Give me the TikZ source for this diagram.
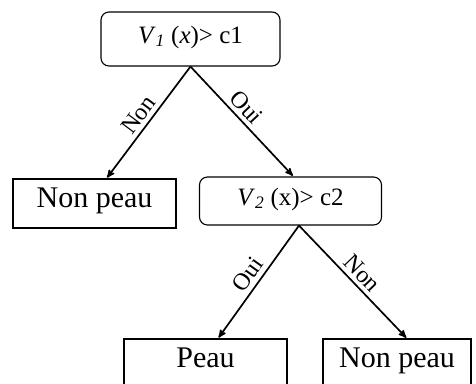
\documentclass[tikz,border=0pt]{standalone}
\usepackage{fontspec}
\setmainfont{Liberation Serif}
\usepackage{tikz}
\usetikzlibrary{arrows,shapes,positioning}
\tikzset{
  every picture/.style = {
    x = 1pt,
    y = -1pt,
    >=stealth',
  }
  ,
  test/.style = {
    rectangle,
    rounded corners = 8pt,
    draw,
    line width = 1.1pt,
    inner sep = 0pt,
    font = \fontsize{25}{28}\selectfont,
    text height = 0.9em,
    text depth = 0.1em,
    minimum height = 48pt
  }
  , % leaves of the tree
  leaf/.style = {
    test,
    rounded corners = 0pt,
    font = \fontsize{30}{34}\selectfont
  }
  , % labels of edges
  label-edge/.style = {
    sloped,
    above,
    font = \fontsize{24}{26}\selectfont,
    inner sep = 4pt
  }
  ,
  branch/.style = {
    ->,
    line width = 1.7pt,
    shorten > = 1pt
  }
}

\begin{document}
\begin{tikzpicture}
\useasboundingbox (0,0) rectangle (476,383);
\node[test, minimum width = 179pt, minimum height = 54pt] at (190.5,39) (v1) {\textit{V}\textsubscript{\textit{1}} (\textit{x})> c1};
\node[leaf, minimum width = 163pt, minimum height = 49pt] at (94.5,203.5) (np1) {Non peau};
\node[test, minimum width = 182pt] at (290.5,201) (v2) {\textit{V}\textsubscript{\textit{2}} (x)> c2};
\node[leaf, minimum width = 163pt] at (205.5,363) (peau) {Peau};
\node[leaf, minimum width = 148pt] at (397,363) (np2) {Non peau};

\draw[branch] (v1.south) -- node[label-edge] {Non} ([xshift=12pt]np1.north);
\draw[branch] (v1.south) -- node[label-edge, pos=0.45] {Oui} ([xshift=3pt]v2.north);

\draw[branch] ([xshift=8.5pt]v2.south) -- node[label-edge] {Oui} ([xshift=12.5pt]peau.north);
\draw[branch] ([xshift=8.5pt]v2.south) -- node[label-edge] {Non} ([xshift=10pt]np2.north);
\end{tikzpicture}
\end{document}
